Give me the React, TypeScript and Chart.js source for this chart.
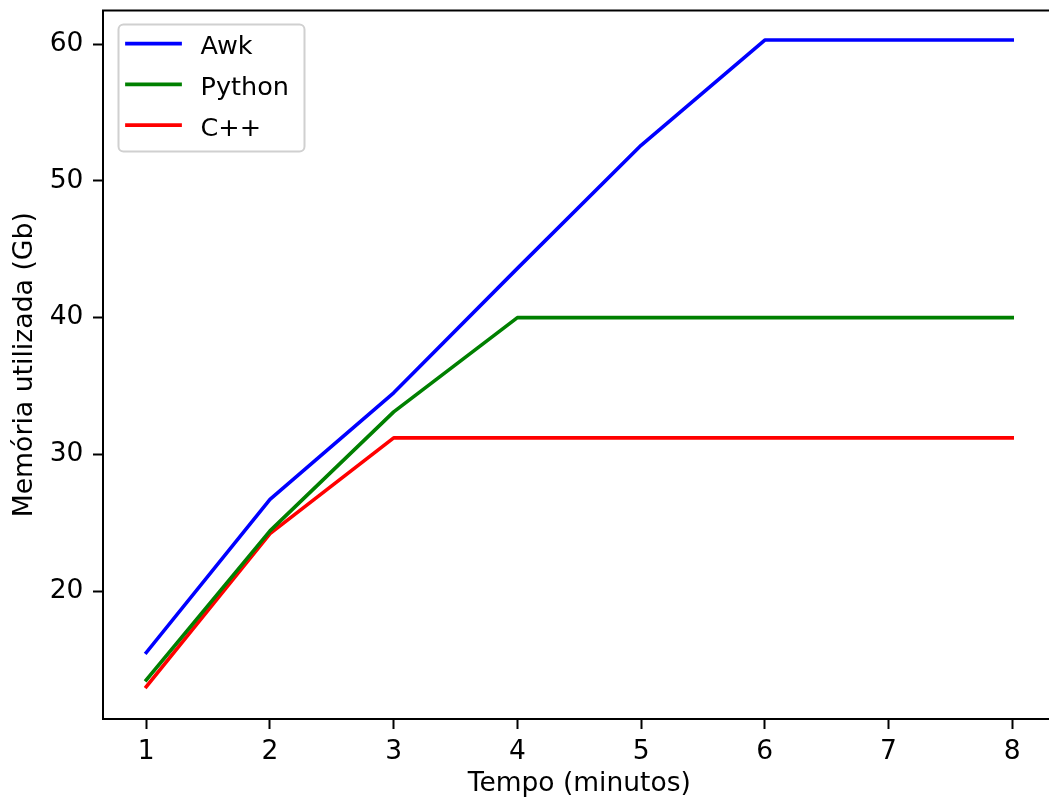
import React, { useEffect, useRef } from "react";
import { Chart, registerables } from "chart.js";

Chart.register(...registerables);

// ---- data ----
const times = [1, 2, 3, 4, 5, 6, 7, 8];
const awk = [15.5, 26.7, 34.5, 43.6, 52.6, 60.3, 60.3, 60.3];
const python = [13.5, 24.4, 33.1, 40.0, 40.0, 40.0, 40.0, 40.0];
const cpp = [13.0, 24.2, 31.2, 31.2, 31.2, 31.2, 31.2, 31.2];
const seriesNames = ["Awk", "Python", "C++"];
const seriesColors = ["#0000ff", "#008000", "#ff0000"];
const xTicks = [1, 2, 3, 4, 5, 6, 7, 8];
const yTicks = [20, 30, 40, 50, 60];
const xLabel = "Tempo (minutos)";
const yLabel = "Memória utilizada (Gb)";

const FONT_FAMILY = "'DejaVu Sans', 'Liberation Sans', sans-serif";
const TICK_SIZE = 26.5;
const LEGEND_SIZE = 25.5;

// matplotlib-like spines: top, left, bottom (right spine lies outside the cropped view)
const framePlugin = {
  id: "mplFrame",
  afterDatasetsDraw(chart: any) {
    const { ctx, chartArea } = chart;
    const { left, top, right, bottom } = chartArea;
    ctx.save();
    ctx.strokeStyle = "#000";
    ctx.lineWidth = 2;
    ctx.lineCap = "square";
    ctx.beginPath();
    ctx.moveTo(right, top);
    ctx.lineTo(left, top);
    ctx.lineTo(left, bottom);
    ctx.lineTo(right, bottom);
    ctx.stroke();
    ctx.restore();
  },
};

const legendPlugin = {
  id: "mplLegend",
  afterDraw(chart: any) {
    const ctx = chart.ctx;
    ctx.save();
    const x0 = 118.5,
      y0 = 24.5,
      w = 186,
      h = 127;
    ctx.beginPath();
    if ((ctx as any).roundRect) (ctx as any).roundRect(x0, y0, w, h, 5);
    else ctx.rect(x0, y0, w, h);
    ctx.fillStyle = "rgba(255,255,255,0.8)";
    ctx.fill();
    ctx.strokeStyle = "#d0d0d0";
    ctx.lineWidth = 2;
    ctx.stroke();
    chart.data.datasets.forEach((ds: any, i: number) => {
      const y = 43.5 + i * 40.8;
      ctx.beginPath();
      ctx.moveTo(127, y);
      ctx.lineTo(180, y);
      ctx.strokeStyle = ds.borderColor;
      ctx.lineWidth = 3.75;
      ctx.lineCap = "square";
      ctx.stroke();
      ctx.fillStyle = "#000";
      ctx.font = `${LEGEND_SIZE}px ${FONT_FAMILY}`;
      ctx.textBaseline = "alphabetic";
      ctx.textAlign = "left";
      ctx.fillText(ds.label, 200.5, y + 10.5);
    });
    ctx.restore();
  },
};

export default function App() {
  const ref = useRef<HTMLCanvasElement | null>(null);

  useEffect(() => {
    if (!ref.current) return;
    const font = { family: FONT_FAMILY, size: TICK_SIZE };
    const series = [awk, python, cpp];
    const chart = new Chart(ref.current, {
      type: "line",
      data: {
        datasets: series.map((vals, i) => ({
          label: seriesNames[i],
          data: times.map((t, j) => ({ x: t, y: vals[j] })),
          borderColor: seriesColors[i],
          backgroundColor: seriesColors[i],
          borderWidth: 3.6,
          borderCapStyle: "square",
          borderJoinStyle: "round",
          pointRadius: 0,
          tension: 0,
          fill: false,
        })),
      },
      options: {
        animation: false,
        responsive: false,
        maintainAspectRatio: false,
        devicePixelRatio: 1,
        layout: { padding: { left: 0, top: 10.5, right: 4.5, bottom: 0 } },
        plugins: {
          legend: { display: false },
          tooltip: { enabled: false },
        },
        scales: {
          x: {
            type: "linear",
            min: 0.65,
            max: 8.35,
            afterBuildTicks: (s: any) => {
              s.ticks = xTicks.map((v) => ({ value: v }));
            },
            afterFit: (s: any) => {
              s.height = 82;
              s.paddingLeft = 0;
              s.paddingRight = 0;
            },
            grid: {
              display: true,
              drawOnChartArea: false,
              drawTicks: true,
              tickLength: 10,
              tickWidth: 2,
              tickColor: "#000",
            },
            border: { display: false },
            ticks: {
              color: "#000",
              font,
              padding: 7.5,
              maxRotation: 0,
              autoSkip: false,
            },
            title: {
              display: true,
              text: xLabel,
              color: "#000",
              font,
              padding: { top: 0, bottom: 0.6 },
            },
          },
          y: {
            type: "linear",
            min: 10.64,
            max: 62.46,
            afterBuildTicks: (s: any) => {
              s.ticks = yTicks.map((v) => ({ value: v }));
            },
            afterFit: (s: any) => {
              s.width = 103;
              s.paddingTop = 0;
              s.paddingBottom = 0;
            },
            grid: {
              display: true,
              drawOnChartArea: false,
              drawTicks: true,
              tickLength: 10,
              tickWidth: 2,
              tickColor: "#000",
            },
            border: { display: false },
            ticks: {
              color: "#000",
              font,
              padding: 9.6,
              autoSkip: false,
            },
            title: {
              display: true,
              text: yLabel,
              color: "#000",
              font: { family: FONT_FAMILY, size: 26.7 },
              padding: { top: 9.5, bottom: 0 },
            },
          },
        },
      },
      plugins: [framePlugin, legendPlugin],
    } as any);
    return () => chart.destroy();
  }, []);

  return (
    <div
      style={{
        position: "fixed",
        left: 0,
        top: 0,
        width: 1049,
        height: 801,
        overflow: "hidden",
        background: "#fff",
      }}
    >
      <canvas
        ref={ref}
        width={1060}
        height={801}
        style={{ display: "block", width: "1060px", height: "801px" }}
      />
    </div>
  );
}
